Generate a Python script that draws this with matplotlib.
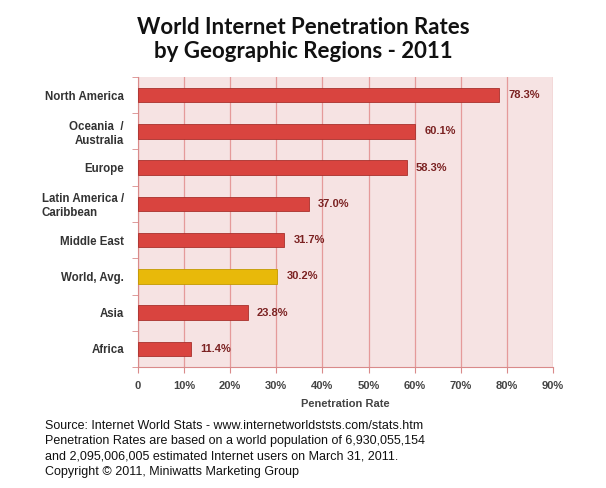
import matplotlib
matplotlib.use("Agg")
import matplotlib.pyplot as plt
import numpy as np

categories = ["North America", "Oceania  /\nAustralia", "Europe", "Latin America /\nCaribbean",
              "Middle East", "World, Avg.", "Asia", "Africa"]
values = [78.3, 60.1, 58.3, 37.0, 31.7, 30.2, 23.8, 11.4]
value_labels = ["78.3%", "60.1%", "58.3%", "37.0%", "31.7%", "30.2%", "23.8%", "11.4%"]
xticks = [0, 10, 20, 30, 40, 50, 60, 70, 80, 90]
xtick_labels = ["0", "10%", "20%", "30%", "40%", "50%", "60%", "70%", "80%", "90%"]

plt.rcParams['font.family'] = ['Liberation Sans', 'DejaVu Sans']

fig = plt.figure(figsize=(6.06, 4.88), dpi=100)
ax = fig.add_axes([138/606, 1-367/488, (553-138)/606, (367-77)/488])
ax.set_facecolor("#f6e3e3")

n = len(categories)
ypos = np.arange(n)
colors = ["#d9443f" if c != "World, Avg." else "#e8b90a" for c in categories]
edge = ["#a8302c" if c != "World, Avg." else "#c29a00" for c in categories]
ax.barh(ypos, values, height=0.4, color=colors, edgecolor=edge, linewidth=0.6, zorder=3)
for y, v, lab in zip(ypos, values, value_labels):
    ax.text(v + 2, y, lab, va="center", ha="left", fontsize=8, fontweight="bold",
            color="#7b2222", zorder=4)

ax.set_xlim(0, 90)
ax.set_ylim(n - 0.5, -0.5)
ax.set_xticks(xticks)
ax.set_xticklabels(xtick_labels, fontsize=8, fontweight="bold", color="#444444")
ax.set_yticks(ypos)
ax.set_yticklabels(categories, fontsize=8.3, fontweight="bold", color="#333333")
for lbl in ax.get_yticklabels():
    if lbl.get_text().startswith("Latin"):
        lbl.set_multialignment("left")
ax.set_yticks(np.arange(-0.5, n, 1), minor=True)
ax.tick_params(axis="y", which="major", length=0, pad=10)
ax.tick_params(axis="y", which="minor", length=4, color="#d98a8a")
ax.tick_params(axis="x", which="major", length=4, color="#d98a8a", pad=6)
ax.grid(axis="x", color="#e59a9a", linewidth=0.9, zorder=1)
for s in ["top", "right"]:
    ax.spines[s].set_visible(False)
ax.spines["left"].set_color("#d98a8a")
ax.spines["bottom"].set_color("#d98a8a")
ax.set_xlabel("Penetration Rate", fontsize=8, fontweight="bold", color="#444444", labelpad=6)

fig.text(0.5, 1-28/488, "World Internet Penetration Rates", ha="center", va="center",
         fontsize=16, fontweight="bold", color="#111111", family=["Lato", "DejaVu Sans"])
fig.text(0.5, 1-51/488, "by Geographic Regions - 2011", ha="center", va="center",
         fontsize=16, fontweight="bold", color="#111111", family=["Lato", "DejaVu Sans"])

footer = ["Source: Internet World Stats - www.internetworldststs.com/stats.htm",
          "Penetration Rates are based on a world population of 6,930,055,154",
          "and 2,095,006,005 estimated Internet users on March 31, 2011.",
          "Copyright \u00a9 2011, Miniwatts Marketing Group"]
for i, line in enumerate(footer):
    fig.text(45/606, 1-(426 + i*15.3)/488, line, ha="left", va="center", fontsize=9, color="#111111")

fig.savefig("out.png", dpi=100)
